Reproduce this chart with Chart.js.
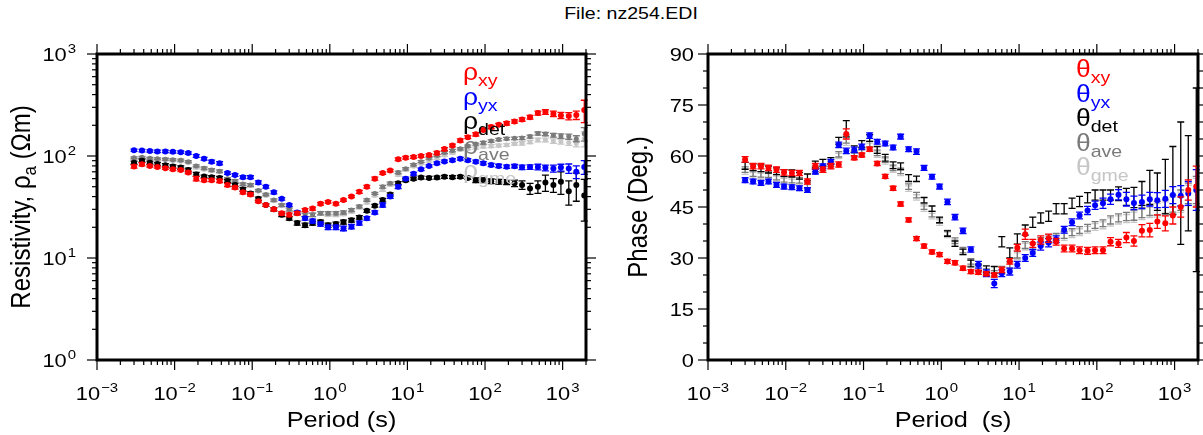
<!DOCTYPE html>
<html>
<head>
<meta charset="utf-8">
<script src="https://cdn.jsdelivr.net/npm/chart.js@4.4.1/dist/chart.umd.min.js"></script>
<style>
  body { margin: 0; background: #fff; width: 1203px; height: 435px; position: relative; overflow: hidden; }
  canvas { position: absolute; top: 0; }
  #rho { left: 0; }
  #phase { left: 600px; }
  #fileTitle { position: absolute; top: 4px; left: 631px; transform: translateX(-50%) scaleX(1.15);
    font: 17px "Liberation Sans", Arial, sans-serif; white-space: nowrap; }
</style>
</head>
<body>
<div id="fileTitle">File: nz254.EDI</div>
<canvas id="rho" width="600" height="435"></canvas>
<canvas id="phase" width="603" height="435"></canvas>
<script>
// periods (s)
const periods = [0.0030, 0.0038, 0.0048, 0.0060, 0.0076, 0.0095, 0.012, 0.015, 0.019, 0.024,
  0.030, 0.038, 0.048, 0.060, 0.076, 0.095, 0.12, 0.15, 0.19, 0.24,
  0.30, 0.38, 0.48, 0.60, 0.76, 0.95, 1.2, 1.5, 1.9, 2.4,
  3.0, 3.8, 4.8, 6.0, 7.6, 9.5, 12, 15, 19, 24,
  30, 38, 48, 60, 76, 95, 120, 150, 190, 240,
  300, 380, 480, 600, 760, 950, 1200, 1500, 1900];

// apparent resistivity (Ohm.m)
const rhoXY = [79, 83, 80, 78, 76, 74, 73, 69, 60, 58,
  58, 57, 52, 49, 44, 42, 36, 33, 30, 27.5,
  26.5, 27.5, 29.5, 30.5, 34, 35.5, 34, 37, 40, 44.5,
  50, 60, 68, 72, 93, 96, 98, 100, 102, 107,
  117, 127, 142, 153, 163, 180, 192, 202, 209, 218,
  228, 240, 264, 270, 260, 250, 246, 252, 282];
const rhoYX = [114, 113, 112, 111, 111, 110, 109, 107, 100, 94,
  88, 85, 68, 65, 62, 62, 55, 50, 44, 38,
  33, 28, 24.5, 23, 21.5, 20, 20, 19.5, 20.3, 22,
  24.5, 28, 33, 40, 50, 60, 67, 74, 80, 85,
  88.5, 91, 94, 91, 88, 85, 81.5, 80, 78.5, 79.5,
  77.5, 78, 78, 76.5, 75.5, 77, 75.5, 70, 78];
const rhoDet = [86, 90, 86, 83.5, 81, 79, 77, 73, 66, 63,
  62, 61, 57, 52, 47, 43, 38, 33, 30, 26.5,
  24.5, 22, 21, 22, 22.5, 21, 21.5, 22.5, 23.5, 25,
  29, 32.5, 37, 42, 54, 58, 60, 61.5, 61, 61.5,
  62.5, 62, 62.5, 61, 58, 58, 56.5, 56, 55.5, 54,
  52, 48, 50, 55, 52, 56, 45, 52, 41];
const rhoAve = [96, 97, 95, 94, 93, 92, 91, 88, 80, 76,
  73, 71, 60, 57, 53, 52, 46, 42, 37, 33,
  30, 27.5, 26.5, 26.5, 27.5, 27.5, 27.5, 28, 29.5, 32,
  37, 43, 50, 54, 69, 75, 82, 88, 95, 101,
  108, 113, 118, 125, 131, 135, 140, 145, 148, 149,
  150, 155, 166, 164, 160, 157, 155, 148, 165];
const rhoGme = [95, 96, 94, 93, 92, 90, 89, 86, 77, 74,
  71.5, 70, 59.5, 56.5, 52, 51, 45, 41, 36.5, 32.5,
  29.5, 27.5, 26.5, 26.5, 27.3, 26.6, 26.5, 27, 28.5, 31.3,
  35, 41, 46.6, 52.3, 65.4, 73.3, 79.2, 84.3, 89.2, 94.8,
  101.5, 107.5, 115.5, 118, 120, 124, 125, 127, 128, 131.6,
  133, 137, 143.5, 143.7, 140, 138.7, 136, 132.8, 148];

const rhoXYErr = [3, 3, 2, 2, 2, 2, 2, 2, 3, 2,
  2, 2, 2, 1.5, 1.5, 1.5, 1, 1, 1, 1,
  1, 1, 1, 1, 1, 1, 1, 1, 1, 1.5,
  1.5, 2, 2, 2, 3, 3, 3, 3, 3, 4,
  4, 4, 5, 5, 6, 6, 7, 7, 8, 8,
  9, 10, 12, 14, 16, 18, 20, 24, 70];
const rhoYXErr = [3, 3, 3, 3, 3, 3, 3, 3, 3, 3,
  3, 3, 2, 2, 2, 2, 2, 1.5, 1.5, 1,
  1, 1, 1, 1, 1, 1, 1, 1, 1, 1,
  1, 1, 1.5, 1.5, 2, 2, 2, 2, 2, 2.5,
  2.5, 3, 3, 3, 3, 3, 3, 3, 3, 3,
  4, 4, 5, 5, 6, 6, 8, 10, 12];
const rhoDetErr = [3, 3, 3, 3, 3, 3, 3, 3, 3, 2,
  2, 2, 2, 2, 2, 1.5, 1.5, 1, 1, 1,
  1, 1, 1, 1, 1, 1, 1, 1, 1, 1,
  1, 1, 1.5, 1.5, 2, 2, 2, 2, 2, 2,
  2, 2, 2, 2, 3, 3, 3, 3, 3, 4,
  5, 6, 7, 10, 8, 14, 12, 16, 18];
const rhoAveErr = [2, 2, 2, 2, 2, 2, 2, 2, 2, 2,
  2, 2, 1.5, 1.5, 1.5, 1.5, 1, 1, 1, 1,
  1, 1, 1, 1, 1, 1, 1, 1, 1, 1,
  1, 1, 1.5, 1.5, 2, 2, 2, 2, 2, 2.5,
  2.5, 3, 3, 3, 3, 4, 4, 4, 4, 4,
  5, 5, 6, 6, 7, 8, 9, 10, 25];

// impedance phase (degrees)
const phXY = [59.0, 57.0, 57.0, 56.5, 56.0, 55.2, 55.0, 55.0, 52.5, 57.0,
  56.0, 57.0, 57.5, 66.5, 59.5, 60.3, 62.0, 57.8, 54.0, 50.5,
  45.9, 41.2, 35.7, 33.5, 31.8, 31.0, 29.0, 28.6, 27.0, 26.0,
  25.8, 25.4, 25.0, 26.5, 29.0, 33.0, 37.0, 34.3, 35.3, 35.8,
  34.8, 32.8, 32.8, 32.3, 32.1, 32.3, 32.3, 34.8, 34.3, 36.0,
  35.0, 38.0, 38.2, 40.7, 40.2, 42.5, 45.0, 50.0, 51.0];
const phYX = [52.9, 52.5, 52.1, 52.5, 51.5, 51.0, 50.8, 50.5, 50.0, 55.4,
  57.0, 58.3, 63.3, 61.5, 61.8, 62.7, 66.0, 64.2, 63.7, 62.5,
  65.7, 62.0, 61.3, 56.5, 53.9, 51.0, 46.5, 42.0, 38.0, 32.5,
  28.0, 25.5, 22.5, 25.5, 26.0, 28.0, 30.0, 31.5, 33.5, 34.5,
  35.5, 38.3, 40.5, 42.5, 44.0, 45.5, 46.1, 47.3, 48.6, 47.3,
  46.2, 46.5, 47.3, 47.0, 47.4, 48.5, 48.3, 49.0, 50.0];
const phDet = [57.1, 56.7, 56.4, 56.0, 55.5, 55.0, 54.9, 54.2, 53.7, 57.5,
  58.0, 58.5, 64.5, 68.0, 62.0, 63.5, 65.3, 61.8, 59.5, 57.3,
  57.0, 53.5, 53.3, 47.0, 44.5, 41.2, 37.2, 34.2, 31.8, 28.4,
  27.2, 26.7, 26.5, 34.8, 31.5, 35.6, 38.2, 40.5, 41.8, 42.3,
  44.5, 44.5, 46.1, 46.6, 47.7, 48.5, 48.5, 48.5, 48.9, 48.0,
  47.8, 49.0, 50.8, 49.5, 51.0, 52.8, 52.0, 52.0, 53.0];
const phAve = [56.0, 54.8, 54.6, 54.5, 53.8, 53.1, 52.9, 52.8, 51.3, 56.2,
  56.5, 57.7, 60.5, 65.0, 60.6, 61.5, 63.5, 60.9, 58.9, 56.5,
  55.6, 51.0, 48.5, 45.1, 42.9, 41.0, 37.3, 35.1, 32.3, 29.0,
  27.0, 26.0, 25.5, 26.5, 28.0, 31.0, 33.8, 33.5, 35.0, 35.8,
  36.2, 36.8, 37.6, 38.2, 38.9, 39.7, 40.2, 41.2, 41.8, 42.2,
  42.6, 43.4, 44.0, 44.6, 45.1, 46.0, 47.0, 49.0, 50.0];
const phGme = [55.4, 54.3, 54.1, 54.0, 53.3, 52.6, 52.4, 52.3, 50.8, 55.7,
  56.0, 57.2, 60.0, 64.3, 60.1, 61.0, 63.0, 60.4, 58.4, 56.0,
  55.0, 50.4, 47.8, 44.5, 42.3, 40.4, 36.8, 34.6, 31.8, 28.6,
  26.6, 25.6, 25.0, 26.1, 27.6, 30.5, 33.3, 33.0, 34.5, 35.3,
  35.7, 36.2, 37.0, 37.6, 38.3, 39.1, 39.6, 40.6, 41.2, 41.6,
  42.0, 42.8, 43.4, 44.0, 44.5, 45.4, 46.4, 48.4, 49.4];

const phXYErr = [0.8, 0.8, 0.8, 0.8, 0.8, 0.8, 0.8, 0.8, 0.8, 0.8,
  0.8, 0.8, 0.8, 1.5, 0.6, 0.6, 0.6, 0.6, 0.6, 0.6,
  0.6, 0.6, 0.6, 0.6, 0.6, 0.6, 0.6, 0.6, 0.6, 0.6,
  0.6, 0.6, 0.6, 0.8, 0.8, 1.0, 1.5, 1.2, 1.2, 1.2,
  1.0, 1.0, 1.0, 1.0, 1.0, 1.0, 1.0, 1.2, 1.2, 1.5,
  1.5, 1.8, 2.0, 2.0, 2.2, 2.5, 3.0, 3.0, 6.0];
const phYXErr = [0.7, 0.7, 0.7, 0.7, 0.7, 0.7, 0.7, 0.7, 0.7, 0.7,
  0.7, 0.7, 0.8, 0.8, 0.8, 0.8, 0.8, 0.7, 0.7, 0.7,
  0.7, 0.7, 0.8, 0.7, 0.7, 0.7, 0.8, 0.8, 0.8, 0.8,
  1.0, 1.0, 1.2, 1.0, 1.0, 1.0, 1.0, 1.0, 1.2, 1.2,
  1.0, 1.0, 1.0, 1.0, 1.2, 1.2, 1.5, 1.5, 1.5, 2.0,
  2.0, 2.0, 2.0, 2.2, 2.5, 2.5, 3.0, 3.5, 6.0];
const phDetErr = [1.0, 1.0, 1.0, 1.0, 1.0, 1.0, 1.0, 1.0, 1.0, 1.0,
  1.0, 1.0, 1.0, 2.4, 1.0, 1.0, 1.0, 1.0, 1.0, 1.0,
  1.0, 1.0, 0.8, 0.8, 0.8, 0.8, 0.8, 0.8, 0.8, 1.0,
  1.0, 1.0, 1.0, 1.5, 1.5, 1.5, 1.5, 1.5, 1.5, 1.5,
  1.5, 1.5, 1.5, 1.5, 1.5, 1.5, 1.5, 1.5, 2.0, 2.5,
  3.0, 3.5, 5.0, 5.5, 8.0, 10.0, 18.0, 14.0, 27.0];
const phAveErr = [0.8, 0.8, 0.8, 0.8, 0.8, 0.8, 0.8, 0.8, 0.8, 0.8,
  0.8, 0.8, 0.8, 1.2, 0.8, 0.8, 0.8, 0.8, 0.8, 0.8,
  0.8, 0.8, 0.8, 0.8, 0.8, 0.8, 0.8, 0.8, 0.8, 0.8,
  0.8, 0.8, 0.8, 1.0, 1.0, 1.0, 1.0, 1.0, 1.0, 1.0,
  1.0, 1.0, 1.0, 1.0, 1.0, 1.0, 1.0, 1.2, 1.2, 1.2,
  1.5, 1.5, 1.5, 2.0, 2.0, 2.5, 3.0, 3.0, 4.0];

const xTickExps = [-3, -2, -1, 0, 1, 2, 3];
const rhoTickExps = [0, 1, 2, 3];
const phaseTicks = [0, 15, 30, 45, 60, 75, 90];
const legendKeys = ['xy', 'yx', 'det', 'ave', 'gme'];

const COLORS = { xy: '#ff0000', yx: '#0000ff', det: '#000000', ave: '#7a7a7a', gme: '#c6c6c6' };
const FONT = '"Liberation Sans", Arial, sans-serif';
const SX = 1.15; // glyphs in the original look a bit wide

const makeSet = (key, vals, errs, radius) => ({
  label: key,
  data: periods.map((p, i) => ({ x: p, y: vals[i] })),
  errors: errs,
  backgroundColor: COLORS[key],
  borderColor: COLORS[key],
  pointRadius: radius,
  pointBorderWidth: 0,
  pointHoverRadius: radius,
  showLine: false,
});

// text helpers ------------------------------------------------------------
const wideText = (ctx, text, x, y, size, align, color) => {
  ctx.save();
  ctx.font = `${size}px ${FONT}`;
  ctx.fillStyle = color || '#000';
  ctx.textBaseline = 'alphabetic';
  ctx.translate(x, y);
  ctx.scale(SX, 1);
  ctx.textAlign = align;
  ctx.fillText(text, 0, 0);
  ctx.restore();
};

const textWidth = (ctx, text, size) => {
  ctx.font = `${size}px ${FONT}`;
  return ctx.measureText(text).width * SX;
};

// "10" with superscript exponent
const drawPower = (ctx, exp, x, y, align) => {
  const e = exp < 0 ? '\u2212' + Math.abs(exp) : String(exp);
  const wb = textWidth(ctx, '10', 19);
  const we = textWidth(ctx, e, 13);
  const total = wb + we + 1;
  let left = x;
  if (align === 'center') left = x - total / 2;
  if (align === 'right') left = x - total;
  wideText(ctx, '10', left, y, 19, 'left');
  wideText(ctx, e, left + wb + 1, y - 8, 13, 'left');
};

// symbol with subscript (legend)
const drawSymbol = (ctx, sym, sub, x, y, color) => {
  wideText(ctx, sym, x, y, 23, 'left', color);
  const w = textWidth(ctx, sym, 23);
  wideText(ctx, sub, x + w, y + 6, 17, 'left', color);
};

// error bars ---------------------------------------------------------------
const errorBars = {
  id: 'errorBars',
  beforeDatasetDraw(chart, args) {
    const ds = chart.data.datasets[args.index];
    if (!ds.errors) return;
    const xs = chart.scales.x;
    const ys = chart.scales.y;
    const ctx = chart.ctx;
    ctx.save();
    ctx.strokeStyle = ds.borderColor;
    ctx.lineWidth = 1.3;
    ds.data.forEach((p, i) => {
      const err = ds.errors[i];
      const x = xs.getPixelForValue(p.x);
      const top = ys.getPixelForValue(p.y + err);
      const bot = ys.getPixelForValue(p.y - err);
      ctx.beginPath();
      ctx.moveTo(x, top); ctx.lineTo(x, bot);
      ctx.moveTo(x - 3.5, top); ctx.lineTo(x + 3.5, top);
      ctx.moveTo(x - 3.5, bot); ctx.lineTo(x + 3.5, bot);
      ctx.stroke();
    });
    ctx.restore();
  },
};

// log ticks between min and max
const logTickValues = (min, max) => {
  const majors = [], minors = [];
  for (let k = Math.floor(Math.log10(min)); k <= Math.ceil(Math.log10(max)); k++) {
    for (let m = 1; m <= 9; m++) {
      const v = m * Math.pow(10, k);
      if (v < min * 0.999 || v > max * 1.001) continue;
      (m === 1 ? majors : minors).push(v);
    }
  }
  return { majors, minors };
};

// frame, ticks, labels, legend ----------------------------------------------
const gmtFrame = {
  id: 'gmtFrame',
  afterDraw(chart, args, opts) {
    const { ctx, chartArea: a } = chart;
    const xs = chart.scales.x;
    const ys = chart.scales.y;
    ctx.save();
    ctx.strokeStyle = '#000';
    ctx.lineWidth = 1.2;
    const tick = (x1, y1, x2, y2) => { ctx.beginPath(); ctx.moveTo(x1, y1); ctx.lineTo(x2, y2); ctx.stroke(); };

    // x ticks (bottom and top)
    const xt = logTickValues(xs.min, xs.max);
    xt.majors.forEach(v => {
      const x = xs.getPixelForValue(v);
      tick(x, a.bottom, x, a.bottom + 10);
      tick(x, a.top, x, a.top - 10);
    });
    xt.minors.forEach(v => {
      const x = xs.getPixelForValue(v);
      tick(x, a.bottom, x, a.bottom + 5);
      tick(x, a.top, x, a.top - 5);
    });

    // y ticks (left and right)
    let yMajors, yMinors;
    if (opts.logY) {
      const yt = logTickValues(ys.min, ys.max);
      yMajors = yt.majors; yMinors = yt.minors;
    } else {
      yMajors = phaseTicks;
      yMinors = [];
      for (let v = 0; v <= 90; v += 5) if (v % 15) yMinors.push(v);
    }
    yMajors.forEach(v => {
      const y = ys.getPixelForValue(v);
      tick(a.left, y, a.left - 10, y);
      tick(a.right, y, a.right + 10, y);
    });
    yMinors.forEach(v => {
      const y = ys.getPixelForValue(v);
      tick(a.left, y, a.left - 5, y);
      tick(a.right, y, a.right + 5, y);
    });

    // frame
    ctx.lineWidth = 3;
    ctx.strokeRect(a.left, a.top, a.right - a.left, a.bottom - a.top);

    // tick labels
    xTickExps.forEach(k => drawPower(ctx, k, xs.getPixelForValue(Math.pow(10, k)), a.bottom + 40, 'center'));
    if (opts.logY) {
      rhoTickExps.forEach(k => drawPower(ctx, k, a.left - 21, ys.getPixelForValue(Math.pow(10, k)) + 7, 'right'));
    } else {
      phaseTicks.forEach(v => wideText(ctx, String(v), a.left - 14, ys.getPixelForValue(v) + 7, 19, 'right'));
    }

    // axis titles
    wideText(ctx, opts.xTitle, (a.left + a.right) / 2, 427, 22, 'center');
    ctx.save();
    ctx.translate(opts.yTitleX, (a.top + a.bottom) / 2);
    ctx.rotate(-Math.PI / 2);
    ctx.scale(1 / SX, 1.12);
    const parts = opts.yTitle;
    let total = 0;
    parts.forEach(p => total += textWidth(ctx, p.t, p.sub ? 17 : 24));
    let x = -total / 2;
    parts.forEach(p => {
      const size = p.sub ? 17 : 24;
      wideText(ctx, p.t, x, p.sub ? 5 : 0, size, 'left');
      x += textWidth(ctx, p.t, size);
    });
    ctx.restore();

    // legend
    legendKeys.forEach((k, i) => drawSymbol(ctx, opts.symbol, k, opts.legendX, opts.legendY + i * 24.5, COLORS[k]));
    ctx.restore();
  },
};

const baseOptions = (yScale, padding, frameOpts) => ({
  responsive: false,
  animation: false,
  devicePixelRatio: 1,
  layout: { padding },
  plugins: { legend: { display: false }, tooltip: { enabled: false }, gmtFrame: frameOpts },
  scales: {
    x: { type: 'logarithmic', min: 0.001, max: 2000, display: false },
    y: yScale,
  },
});

new Chart(document.getElementById('rho'), {
  type: 'scatter',
  data: {
    datasets: [
      makeSet('xy', rhoXY, rhoXYErr, 3),
      makeSet('yx', rhoYX, rhoYXErr, 3),
      makeSet('det', rhoDet, rhoDetErr, 3),
      makeSet('ave', rhoAve, rhoAveErr, 2.5),
      makeSet('gme', rhoGme, rhoAveErr, 2.5),
    ],
  },
  options: baseOptions(
    { type: 'logarithmic', min: 1, max: 1000, display: false },
    { left: 97, right: 14, top: 54, bottom: 75 },
    {
      logY: true, xTitle: 'Period (s)', symbol: '\u03c1', legendX: 463, legendY: 80, yTitleX: 30,
      yTitle: [{ t: 'Resistivity, \u03c1' }, { t: 'a', sub: true }, { t: ' (\u03a9m)' }],
    }
  ),
  plugins: [errorBars, gmtFrame],
});

new Chart(document.getElementById('phase'), {
  type: 'scatter',
  data: {
    datasets: [
      makeSet('xy', phXY, phXYErr, 3),
      makeSet('yx', phYX, phYXErr, 3),
      makeSet('det', phDet, phDetErr, 0),
      makeSet('ave', phAve, phAveErr, 0),
      makeSet('gme', phGme, phAveErr, 0),
    ],
  },
  options: baseOptions(
    { type: 'linear', min: 0, max: 90, display: false },
    { left: 108, right: 5, top: 54, bottom: 75 },
    {
      logY: false, xTitle: 'Period  (s)', symbol: '\u03b8', legendX: 476, legendY: 77, yTitleX: 47,
      yTitle: [{ t: 'Phase (Deg.)' }],
    }
  ),
  plugins: [errorBars, gmtFrame],
});
</script>
</body>
</html>
